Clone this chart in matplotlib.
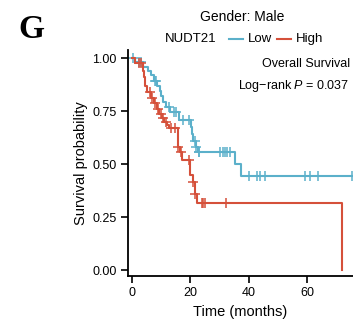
import matplotlib
matplotlib.use("Agg")
import matplotlib.pyplot as plt
from matplotlib.lines import Line2D
import numpy as np

plt.rcParams['font.family'] = ['Liberation Sans', 'DejaVu Sans']
plt.rcParams['mathtext.fontset'] = 'custom'
plt.rcParams['mathtext.it'] = 'Liberation Sans:italic'
plt.rcParams['mathtext.rm'] = 'Liberation Sans'

# Low NUDT21 (blue): event times and survival after each step
low_t = [0, 1.0, 3.8, 5.5, 6.5, 7.5, 8.5, 9.5, 10.0, 10.7, 11.8, 13.0, 16.0, 20.2, 20.6, 21.0, 21.8, 22.5, 35.3, 37.3, 75.5]
low_s = [1.0, 0.98, 0.96, 0.94, 0.92, 0.89, 0.87, 0.845, 0.82, 0.795, 0.77, 0.745, 0.71, 0.675, 0.64, 0.61, 0.58, 0.556, 0.50, 0.443, 0.443]
low_cens = [0.5, 2.5, 3.0, 7.8, 8.2, 12.5, 14.5, 15.2, 17.5, 19.5, 21.5, 22.0, 22.8, 23.0,
            30.1, 31.2, 31.8, 32.4, 33.5, 40.1, 42.6, 43.8, 45.5, 59.1, 60.9, 63.7, 75.1]

# High NUDT21 (red)
high_t = [0, 1.0, 3.8, 4.1, 4.5, 5.0, 6.5, 7.5, 8.5, 9.3, 10.2, 11.0, 12.0, 12.6, 15.8, 16.3, 17.0, 19.8, 20.8, 21.5, 22.2, 71.7]
high_s = [1.0, 0.975, 0.94, 0.91, 0.87, 0.84, 0.81, 0.787, 0.76, 0.735, 0.715, 0.70, 0.685, 0.668, 0.58, 0.558, 0.519, 0.448, 0.417, 0.36, 0.314, 0.0]
high_cens = [2.5, 3.2, 6.0, 7.0, 8.0, 9.0, 9.8, 10.5, 11.5, 13.5, 14.7, 15.8, 16.8, 19.5,
             21.0, 21.7, 23.8, 24.4, 24.9, 32.1]

x_ticks = [0, 20, 40, 60]
y_ticks = [0.0, 0.25, 0.5, 0.75, 1.0]
y_ticklabels = ["0.00", "0.25", "0.50", "0.75", "1.00"]

c_low = '#5BB0CA'
c_high = '#D5503A'

W, H = 353, 328
fig = plt.figure(figsize=(W / 100, H / 100), dpi=100)
ax = fig.add_axes([128 / W, (H - 276) / H, 1 - 128 / W, (276 - 50) / H])


def surv_at(ts, ss, t):
    idx = np.searchsorted(ts, t, side='right') - 1
    return ss[max(idx, 0)]


for ts, ss, cens, col in [(low_t, low_s, low_cens, c_low), (high_t, high_s, high_cens, c_high)]:
    ax.step(ts, ss, where='post', color=col, lw=1.5, clip_on=True)
    cy = [surv_at(ts, ss, c) for c in cens]
    ax.plot(cens, cy, linestyle='none', marker='+', ms=7.5, mew=1.1, color=col)

ax.set_xlim(-1.37, 75.6)
ax.set_ylim(-0.028, 1.038)
ax.set_xticks(x_ticks)
ax.set_yticks(y_ticks)
ax.set_yticklabels(y_ticklabels)
for s in ['top', 'right']:
    ax.spines[s].set_visible(False)
for s in ['left', 'bottom']:
    ax.spines[s].set_linewidth(1.3)
ax.tick_params(axis='both', length=5, width=1.2, labelsize=9, colors='black', pad=3)
ax.set_xlabel("Time (months)", fontsize=10.5, labelpad=4)
ax.set_ylabel("Survival probability", fontsize=10.5, labelpad=3)

ax.text(0.985, 0.94, "Overall Survival", transform=ax.transAxes, ha='right', va='center', fontsize=9)
ax.text(0.985, 0.84, "Log\u2212rank $\\it{P}$ = 0.037", transform=ax.transAxes, ha='right', va='center', fontsize=9)

# Panel letter
fig.text(18 / W, 1 - 30 / H, "G", fontsize=24, fontweight='bold', family='Liberation Serif', va='center', ha='left')
# Title
fig.text(242 / W, 1 - 17 / H, "Gender: Male", fontsize=10, ha='center', va='center')
# Legend
ly = 1 - 39 / H
fig.text(165 / W, ly, "NUDT21", fontsize=9.5, ha='left', va='center')
fig.add_artist(Line2D([229 / W, 243 / W], [ly, ly], color=c_low, lw=1.5, transform=fig.transFigure))
fig.text(248 / W, ly, "Low", fontsize=9.5, ha='left', va='center')
fig.add_artist(Line2D([277 / W, 291 / W], [ly, ly], color=c_high, lw=1.5, transform=fig.transFigure))
fig.text(296 / W, ly, "High", fontsize=9.5, ha='left', va='center')

fig.savefig("out.png", dpi=100)
